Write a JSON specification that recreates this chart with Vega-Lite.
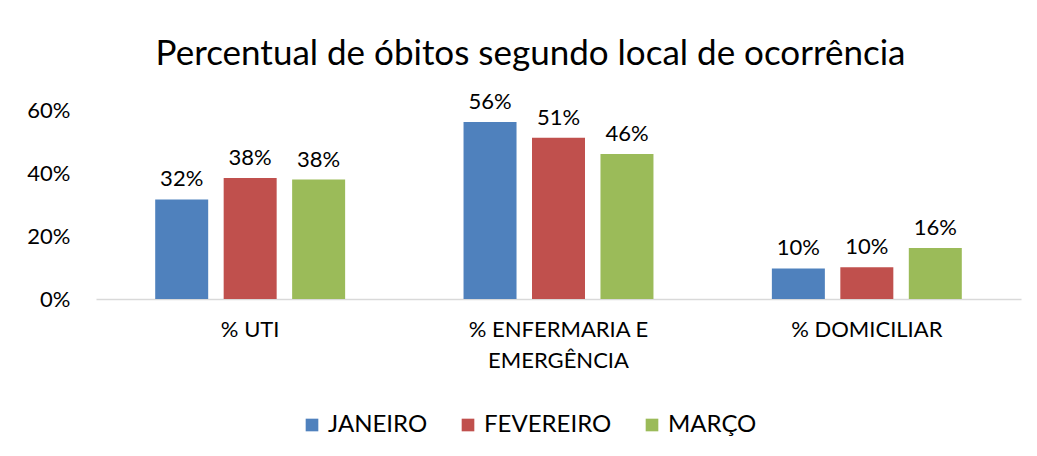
{
  "$schema": "https://vega.github.io/schema/vega-lite/v6.json",
  "width": 925,
  "height": 189,
  "autosize": {"type": "none"},
  "padding": {"left": 96, "top": 110, "right": 16, "bottom": 157},
  "background": "white",
  "title": {
    "text": "Percentual de óbitos segundo local de ocorrência",
    "font": "Lato",
    "fontSize": 35,
    "fontWeight": "normal",
    "color": "#000000",
    "anchor": "middle",
    "dx": -28,
    "dy": 53,
    "baseline": "alphabetic",
    "offset": 44
  },
  "data": {
    "values": [
      {"local": "% UTI", "mes": "JANEIRO", "valor": 0.316},
      {"local": "% UTI", "mes": "FEVEREIRO", "valor": 0.384},
      {"local": "% UTI", "mes": "MARÇO", "valor": 0.379},
      {"local": "% ENFERMARIA E EMERGÊNCIA", "mes": "JANEIRO", "valor": 0.562},
      {"local": "% ENFERMARIA E EMERGÊNCIA", "mes": "FEVEREIRO", "valor": 0.512},
      {"local": "% ENFERMARIA E EMERGÊNCIA", "mes": "MARÇO", "valor": 0.46},
      {"local": "% DOMICILIAR", "mes": "JANEIRO", "valor": 0.097},
      {"local": "% DOMICILIAR", "mes": "FEVEREIRO", "valor": 0.101},
      {"local": "% DOMICILIAR", "mes": "MARÇO", "valor": 0.162}
    ]
  },
  "encoding": {
    "x": {
      "field": "local",
      "type": "nominal",
      "sort": ["% UTI", "% ENFERMARIA E EMERGÊNCIA", "% DOMICILIAR"],
      "scale": {"paddingInner": 0.384, "paddingOuter": 0.192},
      "axis": {
        "title": null,
        "labelAngle": 0,
        "labelFont": "Lato",
        "labelFontSize": 22,
        "labelColor": "#000000",
        "labelPadding": 20,
        "labelLineHeight": 31,
        "labelLimit": 0,
        "labelExpr": "datum.label == '% ENFERMARIA E EMERGÊNCIA' ? ['% ENFERMARIA E', 'EMERGÊNCIA'] : datum.label",
        "ticks": false,
        "tickSize": 0,
        "domainColor": "#D9D9D9",
        "domainWidth": 1.5
      }
    },
    "xOffset": {
      "field": "mes",
      "type": "nominal",
      "sort": ["JANEIRO", "FEVEREIRO", "MARÇO"],
      "scale": {"paddingInner": 0.226, "paddingOuter": 0}
    },
    "y": {
      "field": "valor",
      "type": "quantitative",
      "scale": {"domain": [0, 0.6], "nice": false},
      "axis": {
        "title": null,
        "values": [0, 0.2, 0.4, 0.6],
        "format": ".0%",
        "grid": false,
        "domain": false,
        "ticks": false,
        "tickSize": 0,
        "labelFont": "Lato",
        "labelFontSize": 22,
        "labelColor": "#000000",
        "labelPadding": 26
      }
    }
  },
  "layer": [
    {
      "mark": {"type": "bar"},
      "encoding": {
        "color": {
          "field": "mes",
          "type": "nominal",
          "sort": ["JANEIRO", "FEVEREIRO", "MARÇO"],
          "scale": {"domain": ["JANEIRO", "FEVEREIRO", "MARÇO"], "range": ["#4F81BD", "#C0504D", "#9BBB59"]},
          "legend": {
            "title": null,
            "orient": "none",
            "legendX": 204,
            "legendY": 303,
            "direction": "horizontal",
            "symbolType": "square",
            "symbolSize": 160,
            "symbolStrokeWidth": 0,
            "labelFont": "Lato",
            "labelFontSize": 24,
            "labelColor": "#000000",
            "labelOffset": 4,
            "columnPadding": 28
          }
        }
      }
    },
    {
      "mark": {"type": "text", "baseline": "bottom", "dy": -8, "font": "Lato", "fontSize": 22, "color": "#000000"},
      "encoding": {
        "text": {"field": "valor", "type": "quantitative", "format": ".0%"}
      }
    }
  ],
  "config": {
    "view": {"stroke": null}
  }
}
